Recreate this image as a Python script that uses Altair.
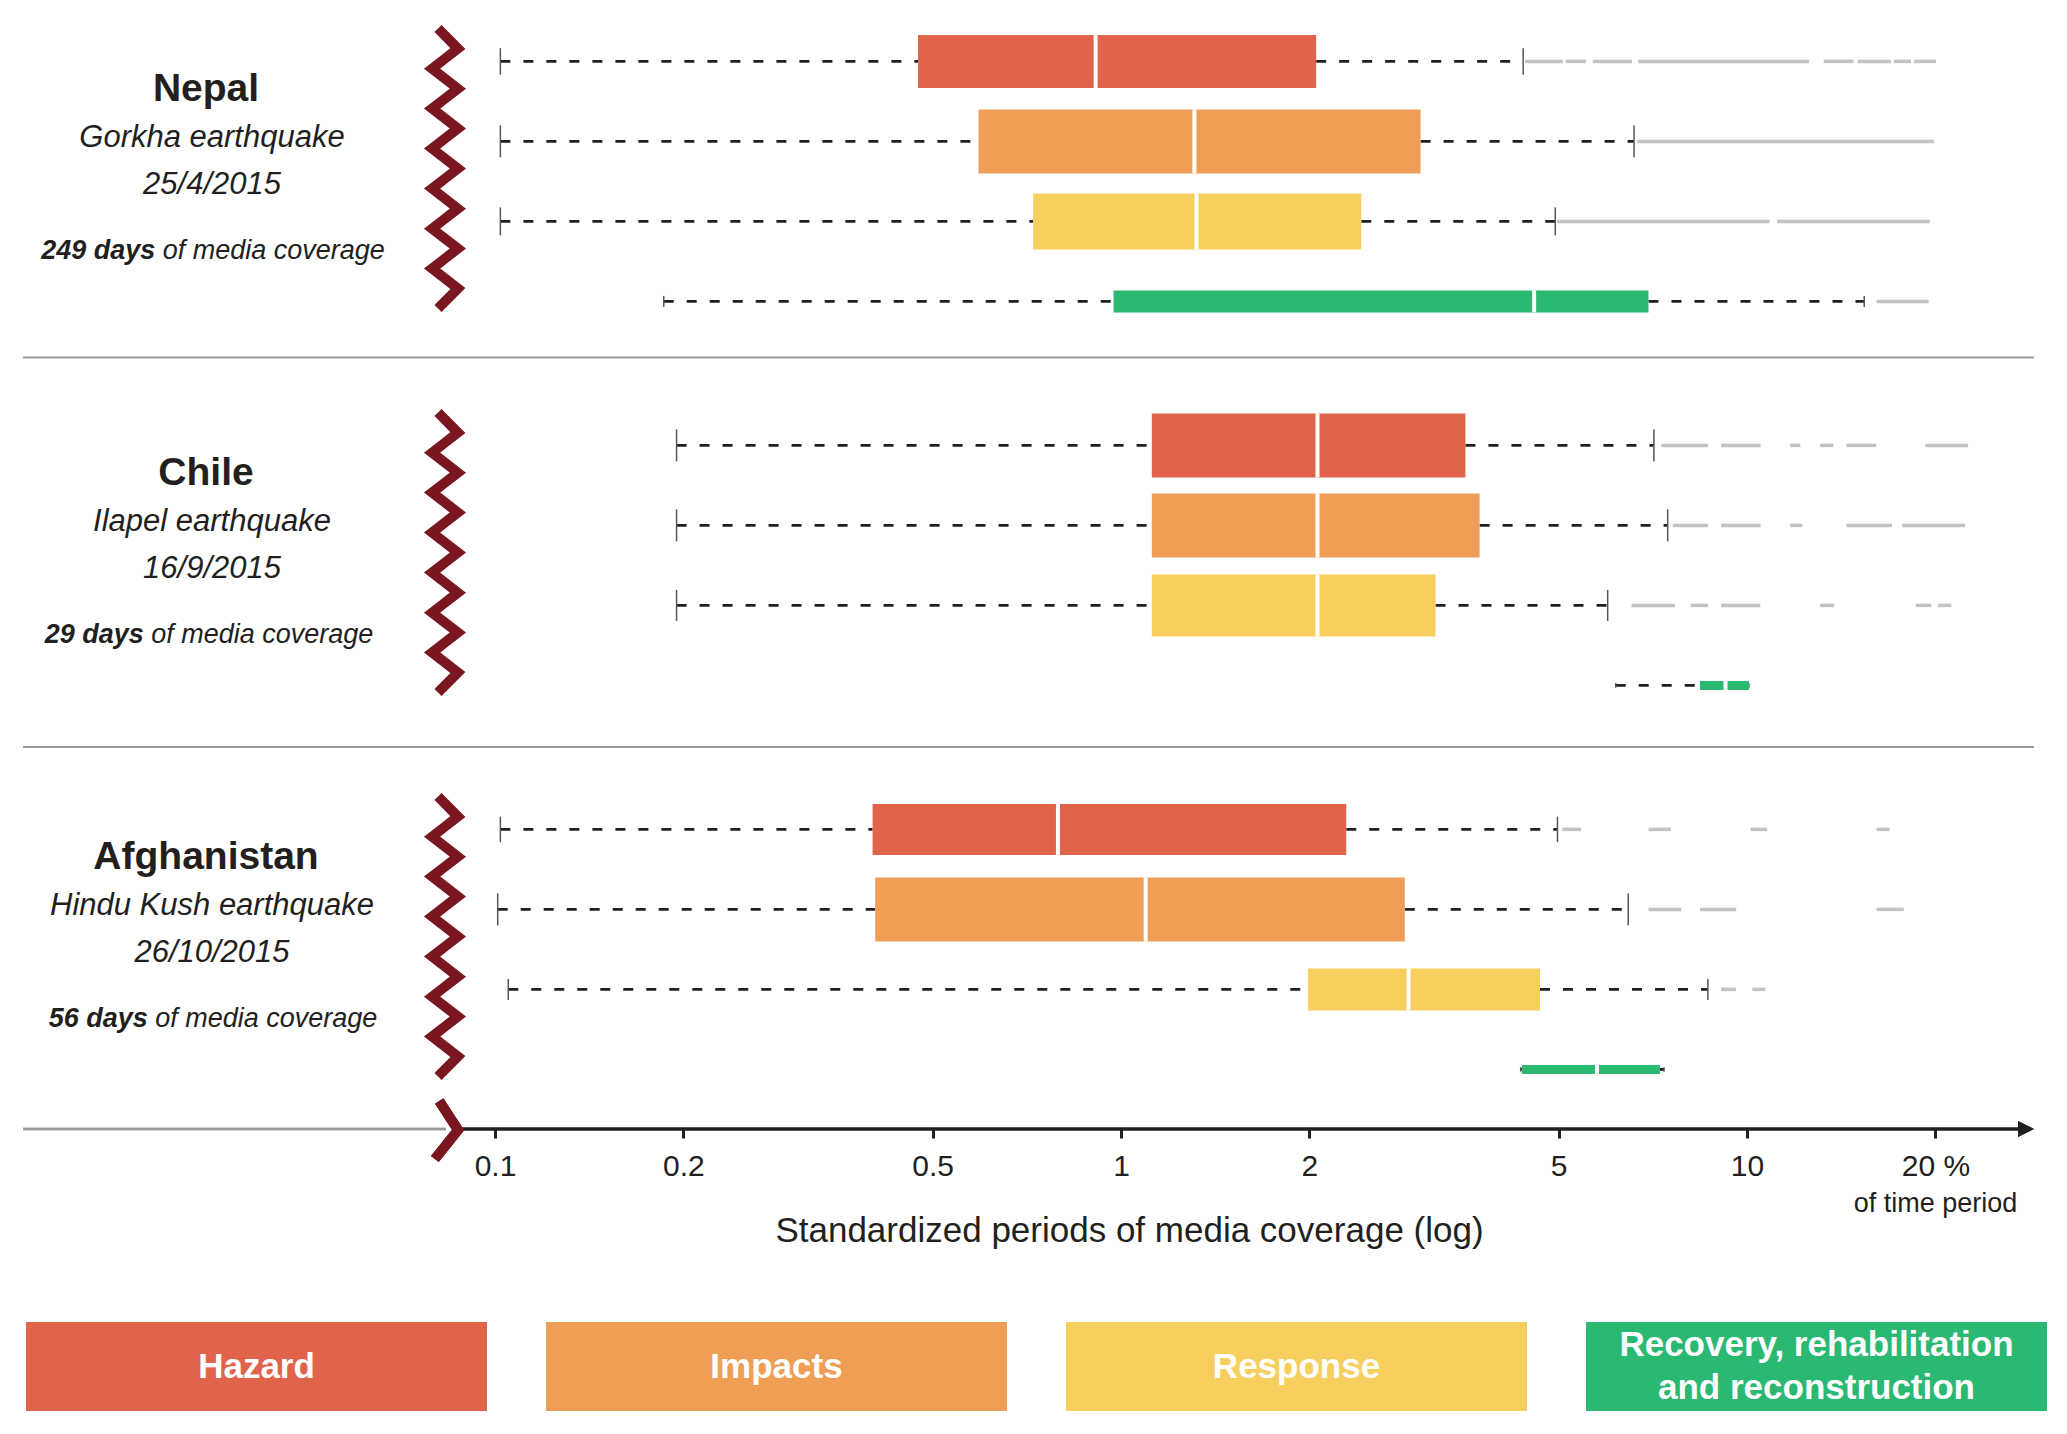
import altair as alt
import pandas as pd

# ---------------- data ----------------
COUNTRIES = ["Nepal", "Chile", "Afghanistan"]
EVENTS = ["Gorkha earthquake", "Ilapel earthquake", "Hindu Kush earthquake"]
DATES = ["25/4/2015", "16/9/2015", "26/10/2015"]
DAYS = [249, 29, 56]
PHASES = ["Hazard", "Impacts", "Response", "Recovery"]
PHASE_LABELS = ["Hazard", "Impacts", "Response", "Recovery, rehabilitation\nand reconstruction"]

# % of time period (log axis); rows = country, columns = phase
WMIN = [[0.102, 0.102, 0.102, 0.186], [0.195, 0.195, 0.195, 6.17], [0.102, 0.101, 0.105, 4.35]]
Q1 = [[0.474, 0.592, 0.724, 0.973], [1.12, 1.12, 1.12, 8.41], [0.401, 0.405, 1.99, 4.37]]
MED = [[0.911, 1.31, 1.32, 4.57], [2.06, 2.06, 2.06, 9.24], [0.793, 1.095, 2.88, 5.76]]
Q3 = [[2.05, 3.01, 2.42, 6.96], [3.55, 3.74, 3.18, 10.07], [2.29, 2.84, 4.67, 7.26]]
WMAX = [[4.39, 6.60, 4.94, 15.39], [7.10, 7.47, 5.99, 10.07], [4.98, 6.46, 8.66, 7.37]]

# runs of outliers (from, to), keyed by (country, phase)
OUTLIERS = {
    (0, 0): [(4.42, 5.08), (5.13, 5.53), (5.67, 6.55), (6.70, 12.56), (13.26, 14.80),
             (15.02, 16.98), (17.16, 18.28), (18.48, 20.04)],
    (0, 1): [(6.68, 19.9)],
    (0, 2): [(4.97, 10.87), (11.17, 19.6)],
    (0, 3): [(16.1, 19.5)],
    (1, 0): [(7.30, 8.66), (9.09, 10.51), (11.72, 12.17), (13.09, 13.74), (14.41, 16.09), (19.27, 22.55)],
    (1, 1): [(7.61, 8.66), (9.09, 10.51), (11.72, 12.26), (14.41, 17.05), (17.69, 22.3)],
    (1, 2): [(6.54, 7.67), (8.13, 8.66), (9.09, 10.5), (13.09, 13.77), (18.6, 19.7), (20.2, 21.2)],
    (2, 0): [(5.07, 5.43), (6.96, 7.56), (10.13, 10.77), (16.1, 16.9)],
    (2, 1): [(6.96, 7.85), (8.41, 9.61), (16.1, 17.8)],
    (2, 2): [(9.09, 9.6), (10.2, 10.7)],
}
TICKS = [0.1, 0.2, 0.5, 1, 2, 5, 10, 20]

# ---------------- styles / layout ----------------
COLORS = ["#E0644C", "#EF9F55", "#F6CF5F", "#2BB873"]
BOX_H = [[53, 64, 56, 22], [64, 64, 62, 9], [51, 64, 42, 9]]  # px
MAROON = "#7A1620"
INK = "#231f20"
FONT = "Liberation Sans"

W, H, ROW = 2045, 1118, 80.0
X01, DEC = 487.0, 626.0  # px of 0.1 and px per decade
XMIN = 10 ** (-1 - X01 / DEC)
XMAX = 10 ** (-1 + (W - X01) / DEC)
ROW0, BLOCK = 0.63, 4.8
SEP_OFF = [3.70, 3.77]

xscale = alt.Scale(type="log", domain=[XMIN, XMAX], nice=False)
yscale = alt.Scale(domain=[0, H / ROW], reverse=True, nice=False, zero=False)

AX = alt.Axis(values=TICKS, labelExpr="datum.value == 20 ? '20 %' : format(datum.value, '~g')",
              domain=False, grid=False, tickSize=9, tickWidth=3, tickColor=INK,
              labelFont=FONT, labelFontSize=30, labelColor=INK, labelPadding=13,
              labelOverlap=False, labelFlush=False,
              title="Standardized periods of media coverage (log)", titleFont=FONT,
              titleFontSize=35, titleFontWeight="normal", titleColor=INK,
              titleX=1121, titleY=101, titleAlign="center", titleBaseline="middle")


def X(f):
    return alt.X(f, type="quantitative", scale=xscale, axis=AX)


def Y(f):
    return alt.Y(f, type="quantitative", scale=yscale, axis=None)


def pos(c, p):
    return ROW0 + BLOCK * c + p


rows, outs = [], []
for c in range(3):
    for p in range(4):
        y = pos(c, p)
        h = BOX_H[c][p] / ROW
        rows.append(dict(country=COUNTRIES[c], phase=PHASES[p], mn=WMIN[c][p], q1=Q1[c][p],
                         med=MED[c][p], q3=Q3[c][p], mx=WMAX[c][p], pos=y,
                         top=y - h / 2, bot=y + h / 2, ctop=y - h / 4, cbot=y + h / 4))
        for lo, hi in OUTLIERS.get((c, p), []):
            outs.append(dict(lo=lo, hi=hi, pos=y))
boxes = pd.DataFrame(rows)
outdf = pd.DataFrame(outs)

seps = pd.DataFrame({"pos": [pos(c, SEP_OFF[c]) for c in range(2)]})
zig = pd.DataFrame({"pos": [pos(c, 1.34) for c in range(3)]})

# text widths (Liberation Sans metrics, em)
EMB = {" ": .278, "d": .611, "a": .556, "y": .556, "s": .556}
EMI = {" ": .278, "o": .556, "f": .278, "m": .833, "e": .556, "d": .556, "i": .222, "a": .556,
       "c": .5, "v": .5, "r": .333, "g": .556}


def tw(s, table, fs):
    return sum(table.get(ch, .556) for ch in s) * fs


COV_FS = 27
centers = [213, 209, 213]
texts = []
for c in range(3):
    y0 = pos(c, 0)
    b = f"{DAYS[c]} days"
    it = "of media coverage"
    wb, wsp, wi = tw(b, EMB, COV_FS), .278 * COV_FS, tw(it, EMI, COV_FS)
    left = centers[c] - 8 - (wb + wsp + wi) / 2
    texts.append(dict(name=COUNTRIES[c], event=EVENTS[c], date=DATES[c], bold=b, ital=it,
                      yn=y0 + 0.35, ye=y0 + 0.955, yd=y0 + 1.545, yc=y0 + 2.375,
                      xb=left + wb, xi=left + wb + wsp))
tdf = pd.DataFrame(texts)

base = alt.Chart(boxes)

sep_l = alt.Chart(seps).mark_rule(color="#9a9a9a", strokeWidth=2).encode(
    y=Y("pos"), x=alt.value(15), x2=alt.value(2026))
gline = alt.Chart(seps).mark_rule(color="#9a9a9a", strokeWidth=2.5).encode(
    y=alt.value(H), x=alt.value(15), x2=alt.value(438))
aline = alt.Chart(seps).mark_rule(color=INK, strokeWidth=3).encode(
    y=alt.value(H), x=alt.value(454), x2=alt.value(2016))
arrow = alt.Chart(seps).mark_point(shape="M -1 -1 L 1 0 L -1 1 Z", size=256, filled=True,
                                   color=INK, opacity=1).encode(x=alt.value(2018), y=alt.value(H))

wl = base.mark_rule(strokeDash=[10, 13], strokeWidth=2.8, color=INK).encode(
    x=X("mn"), x2="q1", y=Y("pos"))
wr = base.mark_rule(strokeDash=[10, 13], strokeWidth=2.8, color=INK).encode(
    x=X("q3"), x2="mx", y=Y("pos"))
cl = base.mark_rule(strokeWidth=1.5, color="#555").encode(x=X("mn"), y=Y("ctop"), y2="cbot")
cr = base.mark_rule(strokeWidth=1.5, color="#555").encode(x=X("mx"), y=Y("ctop"), y2="cbot")
ol = alt.Chart(outdf).mark_rule(color="#c3c3c3", strokeWidth=3.5).encode(
    x=X("lo"), x2="hi", y=Y("pos"))
bx = base.mark_rect().encode(
    x=X("q1"), x2="q3", y=Y("top"), y2="bot",
    color=alt.Color("phase:N", scale=alt.Scale(domain=PHASES, range=COLORS), legend=None))
md = base.mark_rule(color="white", strokeWidth=4).encode(x=X("med"), y=Y("top"), y2="bot")

n = 14
pts = []
for k in range(n + 1):
    yk = -1 + 2 * k / n
    if k == 0 or k == n:
        xk = -0.05
    else:
        xk = 0.092 if k % 2 == 1 else -0.092
    pts.append(f"{xk:.3f} {yk:.3f}")
ZZ = "M " + " L ".join(pts)
zz = alt.Chart(zig).mark_point(shape=ZZ, size=280 ** 2, filled=False, stroke=MAROON,
                               strokeWidth=10, opacity=1, strokeJoin="miter").encode(
    x=alt.value(437), y=Y("pos"))
zz2 = alt.Chart(seps).mark_point(shape="M -0.2 -1 L 0.45 0 L -0.35 1", size=58 ** 2, filled=False,
                                 stroke=MAROON, strokeWidth=10, opacity=1, strokeJoin="miter").encode(
    x=alt.value(437), y=alt.value(H + 1))

tb = alt.Chart(tdf)
t_name = tb.mark_text(font=FONT, fontSize=39, fontWeight="bold", color=INK).encode(
    x=alt.value(198), y=Y("yn"), text="name")
t_ev = tb.mark_text(font=FONT, fontSize=31, fontStyle="italic", color=INK).encode(
    x=alt.value(204), y=Y("ye"), text="event")
t_dt = tb.mark_text(font=FONT, fontSize=31, fontStyle="italic", color=INK).encode(
    x=alt.value(204), y=Y("yd"), text="date")
t_b = tb.mark_text(font=FONT, fontSize=COV_FS, fontStyle="italic", fontWeight="bold",
                   color=INK, align="right").encode(
    x=alt.X("xb:Q", scale=None), y=Y("yc"), text="bold")
t_i = tb.mark_text(font=FONT, fontSize=COV_FS, fontStyle="italic", color=INK, align="left").encode(
    x=alt.X("xi:Q", scale=None), y=Y("yc"), text="ital")

otp = alt.Chart(pd.DataFrame({"v": [20]})).mark_text(font=FONT, fontSize=27, color=INK).encode(
    x=X("v"), y=alt.value(1193), text=alt.value("of time period"))

main = alt.layer(sep_l, gline, ol, wl, wr, cl, cr, bx, md, aline, arrow, zz, zz2,
                 t_name, t_ev, t_dt, t_b, t_i, otp).properties(width=W, height=H)

LEG_H, LEG_LH = 89, 43
leg = pd.DataFrame({"i": [0, 1, 2, 3], "phase": PHASES, "label": PHASE_LABELS})
leg["ly"] = [LEG_H / 2 - (s.count("\n")) * LEG_LH / 2 for s in PHASE_LABELS]
lx = alt.X("i:O", scale=alt.Scale(paddingInner=0.1135, paddingOuter=0.0231, align=0.75), axis=None)
lr = alt.Chart(leg).mark_rect().encode(
    x=lx, color=alt.Color("phase:N", scale=alt.Scale(domain=PHASES, range=COLORS), legend=None))
lt = alt.Chart(leg).mark_text(font=FONT, fontSize=35, fontWeight="bold", color="white",
                              lineBreak="\n", lineHeight=LEG_LH, baseline="middle").encode(
    x=lx, y=alt.Y("ly:Q", scale=None), text="label")
legend = alt.layer(lr, lt).properties(width=W, height=LEG_H)

chart = alt.vconcat(main, legend, spacing=74, padding=0).resolve_scale(
    color="shared", x="independent").configure_view(stroke=None)

chart.save("out.html", embed_options={"renderer": "svg", "actions": False})
